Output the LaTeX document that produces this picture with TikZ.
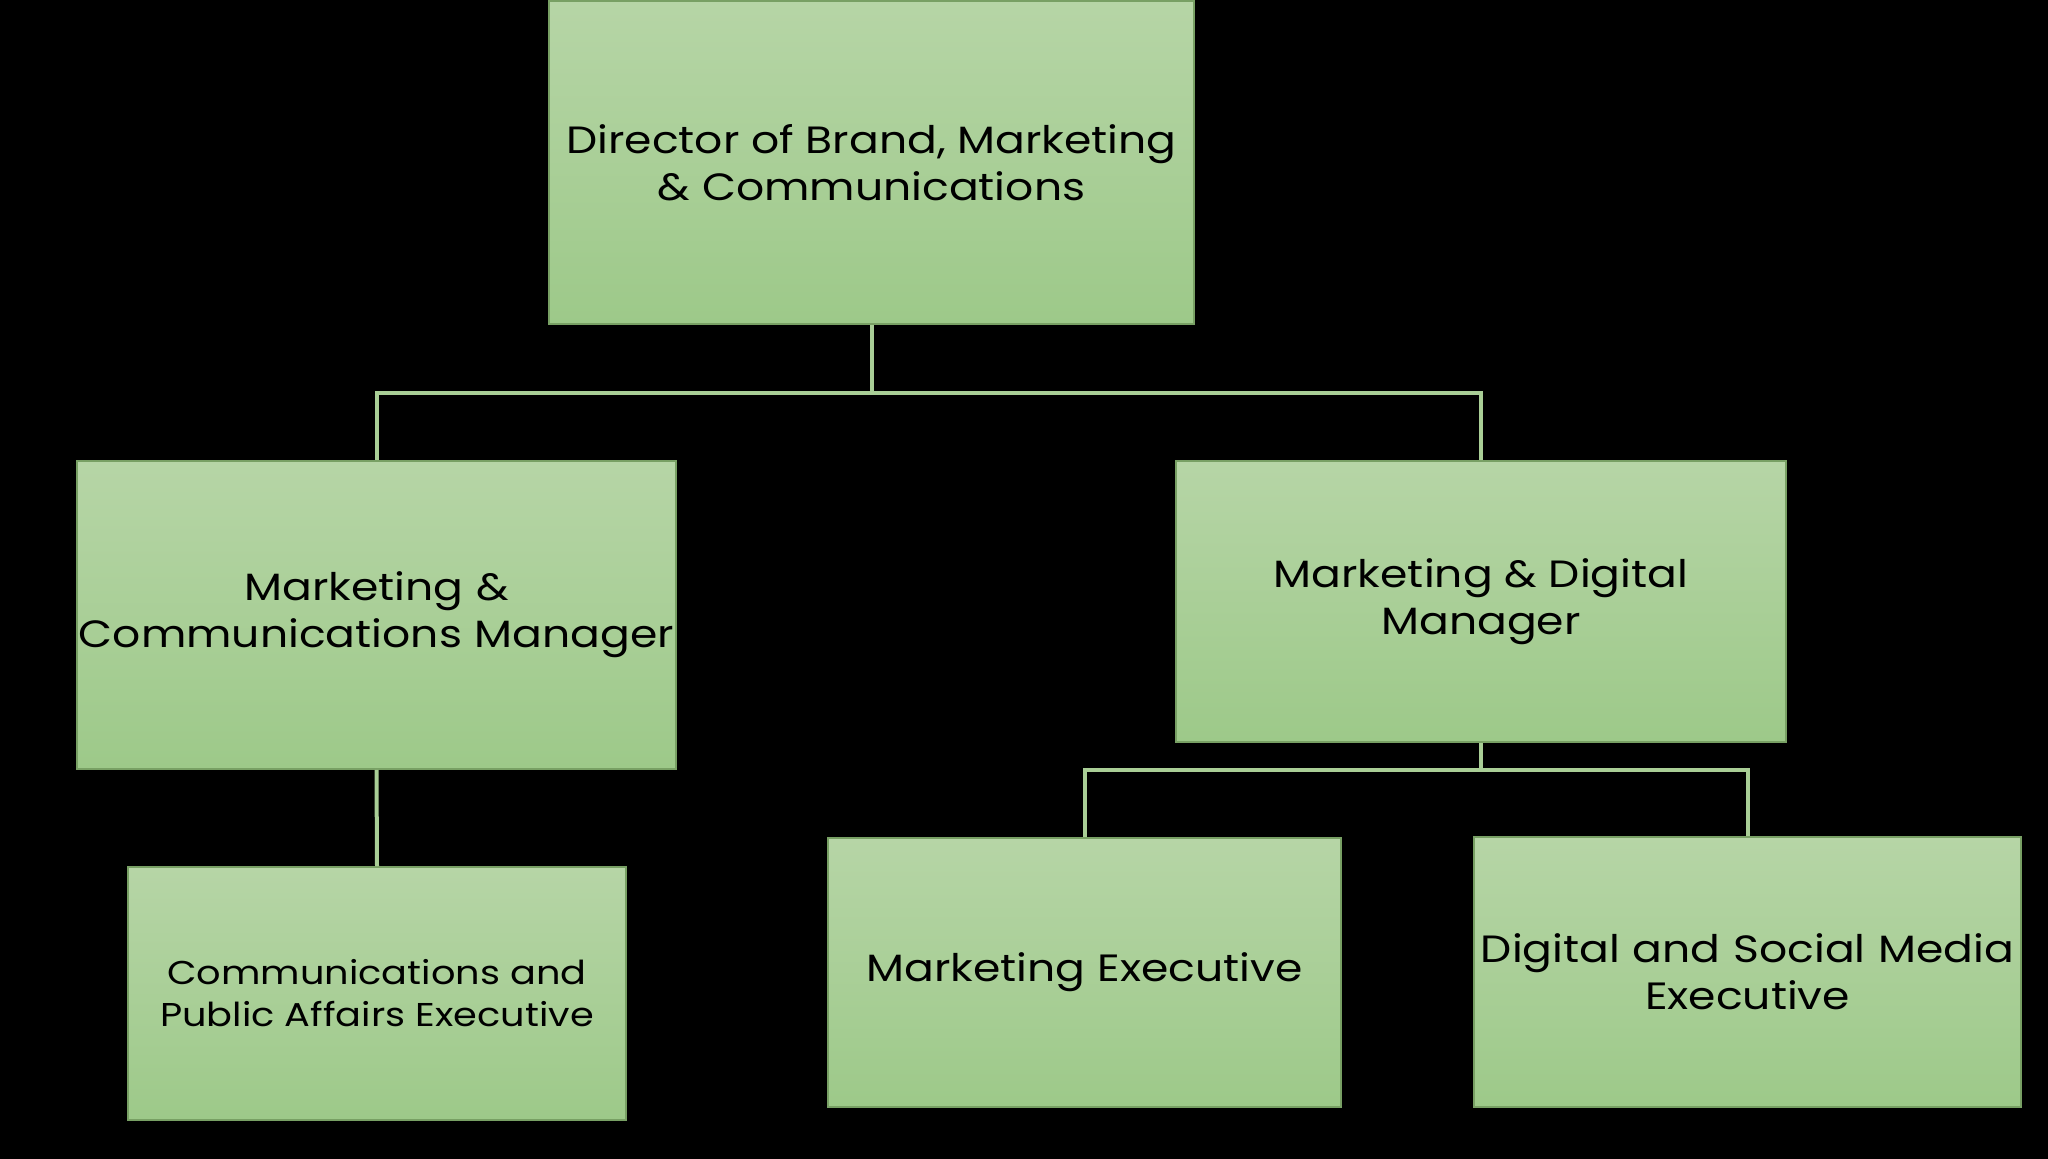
\documentclass[tikz,border=0pt]{standalone}
\usepackage{fontspec}
\setmainfont{Poppins}[FakeStretch=1.16]
\begin{document}
\begin{tikzpicture}[x=0.5pt,y=-0.5pt,
  box/.style={draw=boxedge, line width=0.8pt, top color=boxtop, bottom color=boxbot,
    shading angle=0, rectangle, inner sep=0pt, align=center, text=black,
    font=\fontsize{19}{23.5}\selectfont},
  smallbox/.style={box, font=\fontsize{16.5}{21}\selectfont},
  conn/.style={draw=connc, line width=2pt}]
\definecolor{boxtop}{RGB}{182,213,166}
\definecolor{boxbot}{RGB}{157,201,137}
\definecolor{boxedge}{RGB}{120,160,100}
\definecolor{connc}{RGB}{169,206,150}
\fill[black] (0,0) rectangle (2048,1159);
\useasboundingbox (0,0) rectangle (2048,1159);
\node[box, minimum width=322.5pt, minimum height=161.5pt] (dir) at (871.5,162.5)
  {Director of Brand, Marketing\\\& Communications};
\node[box, minimum width=299.5pt, minimum height=154pt, text width=299.5pt] (mc) at (376.5,615)
  {Marketing \&\\Communications Manager};
\node[box, minimum width=305pt, minimum height=140.5pt] (md) at (1481,601.5)
  {Marketing \& Digital\\Manager};
\node[smallbox, minimum width=249pt, minimum height=126.5pt] (ca) at (377,993.5)
  {Communications and\\Public Affairs Executive};
\node[box, minimum width=256.5pt, minimum height=134.5pt] (me) at (1084.5,972.5)
  {Marketing Executive};
\node[box, minimum width=273.5pt, minimum height=135pt, text width=273.5pt] (dsm) at (1747.5,972)
  {Digital and Social Media\\Executive};
\coordinate (j1) at (871.5,393);
\coordinate (j2) at (1481,770);
\draw[conn] (dir.south) -- (j1);
\draw[conn] (mc.north) |- (j1) -| (md.north);
\draw[conn] (mc.south) -- (ca.north);
\draw[conn] (md.south) -- (j2);
\draw[conn] (me.north) |- (j2) -| (dsm.north);
\end{tikzpicture}
\end{document}
